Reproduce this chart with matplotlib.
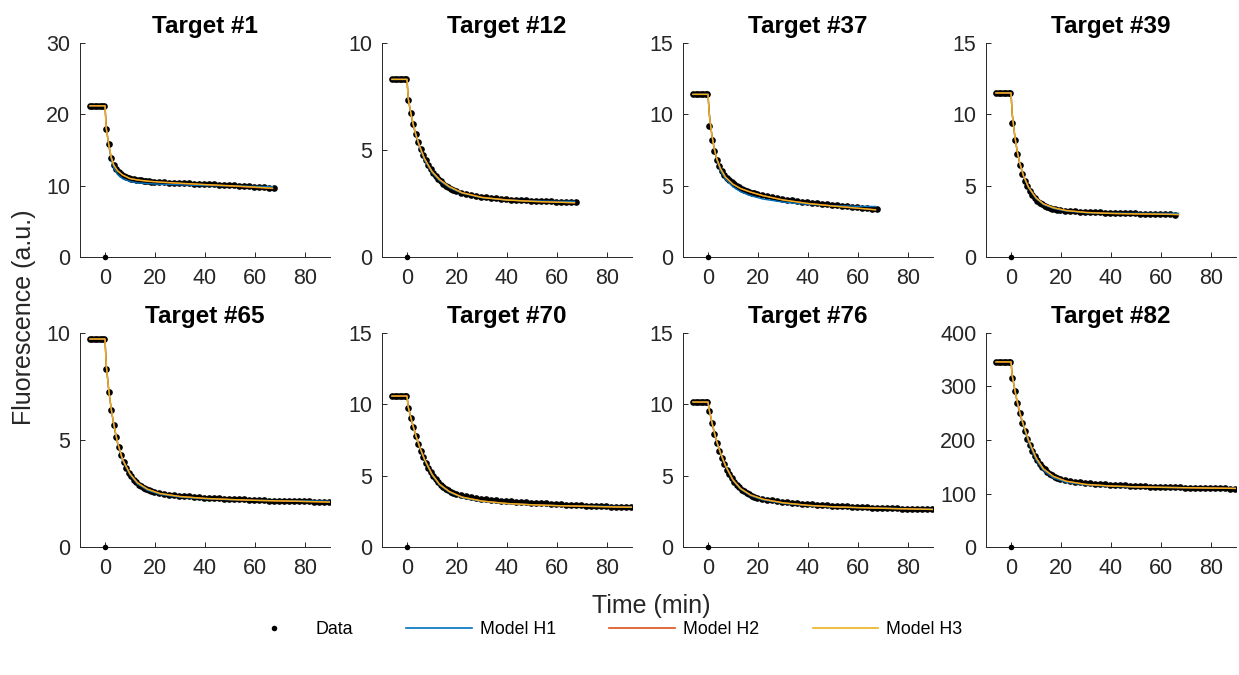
import numpy as np
import matplotlib
matplotlib.use("Agg")
import matplotlib.pyplot as plt

plt.rcParams['font.family'] = ['Liberation Sans', 'DejaVu Sans']

# panel titles and y ranges
titles = ["Target #1", "Target #12", "Target #37", "Target #39",
          "Target #65", "Target #70", "Target #76", "Target #82"]
ymax = [30, 10, 15, 15, 10, 15, 15, 400]
ystep = [10, 5, 5, 5, 5, 5, 5, 100]

# data sampling: flat baseline before t=0, the t=0 point, then decay
t_base = [-6, -5, -4, -3, -2, -1, -0.3]
t_decay = np.concatenate([np.arange(0.5, 20, 1.0), np.arange(21.5, 90, 2.0)])
base_level = [21.2, 8.3, 11.4, 11.5, 9.72, 10.58, 10.16, 346]

decay = [
    [18.0, 15.8, 13.9, 12.9, 12.3, 11.9, 11.6, 11.4, 11.25, 11.1, 11.0, 10.9, 10.85, 10.8, 10.75, 10.7, 10.65, 10.6, 10.58, 10.55,
     10.5, 10.47, 10.44, 10.41, 10.38, 10.35, 10.32, 10.29, 10.26, 10.23, 10.2, 10.17, 10.14, 10.11, 10.08, 10.05, 10.0, 9.95, 9.9, 9.85, 9.8, 9.75, 9.7, 9.65],
    [7.35, 6.73, 6.2, 5.76, 5.37, 5.06, 4.78, 4.53, 4.3, 4.1, 3.93, 3.78, 3.65, 3.53, 3.43, 3.34, 3.26, 3.19, 3.13, 3.08,
     3.0, 2.95, 2.9, 2.86, 2.82, 2.79, 2.76, 2.74, 2.72, 2.70, 2.68, 2.67, 2.66, 2.65, 2.64, 2.63, 2.62, 2.61, 2.60, 2.59, 2.58, 2.57, 2.56, 2.55],
    [9.2, 8.2, 7.45, 6.8, 6.35, 6.0, 5.75, 5.55, 5.38, 5.23, 5.1, 4.98, 4.88, 4.79, 4.71, 4.64, 4.57, 4.51, 4.46, 4.41,
     4.33, 4.26, 4.19, 4.13, 4.07, 4.02, 3.97, 3.92, 3.88, 3.84, 3.8, 3.76, 3.72, 3.69, 3.65, 3.62, 3.59, 3.55, 3.52, 3.49, 3.45, 3.41, 3.37, 3.33],
    [9.4, 8.2, 7.2, 6.45, 5.85, 5.35, 4.95, 4.62, 4.35, 4.13, 3.95, 3.8, 3.68, 3.58, 3.5, 3.44, 3.38, 3.34, 3.3, 3.27,
     3.24, 3.21, 3.19, 3.17, 3.15, 3.14, 3.13, 3.12, 3.11, 3.10, 3.09, 3.08, 3.07, 3.06, 3.05, 3.04, 3.03, 3.02, 3.01, 3.0, 2.99, 2.98, 2.97],
    [8.3, 7.25, 6.4, 5.72, 5.15, 4.68, 4.28, 3.96, 3.7, 3.48, 3.3, 3.15, 3.02, 2.92, 2.84, 2.77, 2.71, 2.66, 2.62, 2.58,
     2.53, 2.49, 2.45, 2.42, 2.40, 2.38, 2.36, 2.34, 2.32, 2.31, 2.29, 2.28, 2.27, 2.26, 2.25, 2.24, 2.23, 2.22, 2.21, 2.20,
     2.19, 2.18, 2.17, 2.16, 2.16, 2.15, 2.15, 2.14, 2.14, 2.13, 2.13, 2.12, 2.12, 2.11, 2.11],
    [9.75, 9.05, 8.4, 7.8, 7.25, 6.75, 6.3, 5.9, 5.55, 5.25, 4.98, 4.75, 4.55, 4.37, 4.22, 4.09, 3.97, 3.87, 3.78, 3.7,
     3.62, 3.55, 3.49, 3.44, 3.39, 3.35, 3.31, 3.28, 3.25, 3.22, 3.19, 3.17, 3.15, 3.13, 3.11, 3.09, 3.07, 3.05, 3.03, 3.01,
     2.99, 2.97, 2.95, 2.93, 2.91, 2.89, 2.87, 2.86, 2.85, 2.84, 2.83, 2.82, 2.81, 2.80, 2.79],
    [9.5, 8.7, 7.95, 7.3, 6.75, 6.25, 5.8, 5.42, 5.1, 4.82, 4.57, 4.36, 4.18, 4.03, 3.9, 3.79, 3.69, 3.6, 3.52, 3.45,
     3.38, 3.32, 3.27, 3.22, 3.18, 3.14, 3.10, 3.07, 3.04, 3.01, 2.98, 2.96, 2.94, 2.92, 2.90, 2.88, 2.86, 2.84, 2.82, 2.80,
     2.78, 2.77, 2.76, 2.75, 2.73, 2.72, 2.71, 2.70, 2.69, 2.68, 2.67, 2.66, 2.65, 2.64, 2.63],
    [315, 292, 270, 250, 232, 216, 202, 190, 180, 171, 163, 156, 150, 145, 141, 137, 134, 131, 129, 127,
     125, 123, 122, 121, 120, 119, 118, 117.5, 117, 116.5, 116, 115.5, 115, 114.6, 114.2, 113.8, 113.4, 113, 112.7, 112.4,
     112.1, 111.8, 111.5, 111.3, 111.1, 110.9, 110.7, 110.5, 110.3, 110.1, 109.9, 109.7, 109.5, 109.3, 109.1],
]

# model fits, sampled on a coarser grid
mt_top = [-6, 0, 0.5, 1.5, 2.5, 3.5, 5, 7, 10, 13, 17, 22, 30, 40, 50, 60, 67]
mt_bot = [-6, 0, 0.5, 1.5, 2.5, 3.5, 5, 7, 10, 13, 17, 22, 30, 40, 50, 60, 75, 90]

h1 = [
    [21.2, 21.2, 18.2, 15.6, 13.7, 12.5, 11.6, 11.0, 10.6, 10.4, 10.3, 10.2, 10.12, 10.02, 9.96, 9.9, 9.85],
    [8.3, 8.3, 7.4, 6.72, 6.15, 5.7, 5.12, 4.52, 3.94, 3.57, 3.24, 2.98, 2.77, 2.66, 2.62, 2.6, 2.6],
    [11.4, 11.4, 10.1, 8.6, 7.55, 6.8, 6.05, 5.45, 4.92, 4.58, 4.3, 4.06, 3.85, 3.69, 3.6, 3.55, 3.54],
    [11.5, 11.5, 10.0, 8.5, 7.38, 6.55, 5.65, 4.85, 4.1, 3.67, 3.4, 3.22, 3.1, 3.07, 3.06, 3.06, 3.06],
    [9.72, 9.72, 8.5, 7.32, 6.42, 5.7, 4.85, 4.05, 3.37, 2.95, 2.65, 2.46, 2.33, 2.25, 2.21, 2.18, 2.16, 2.14],
    [10.58, 10.58, 9.8, 9.1, 8.42, 7.82, 7.02, 6.1, 5.05, 4.35, 3.83, 3.46, 3.2, 3.04, 2.96, 2.9, 2.86, 2.82],
    [10.16, 10.16, 9.6, 8.77, 8.02, 7.35, 6.55, 5.65, 4.65, 4.05, 3.6, 3.3, 3.06, 2.9, 2.81, 2.76, 2.7, 2.66],
    [346, 346, 320, 294, 270, 249, 225, 196, 163, 143, 129, 121, 116, 113.5, 112, 111.5, 110.5, 109.5],
]
h2 = [
    [21.2, 21.2, 18.1, 15.8, 14.0, 12.9, 12.1, 11.5, 11.0, 10.8, 10.6, 10.5, 10.3, 10.15, 9.95, 9.75, 9.6],
    [8.3, 8.3, 7.4, 6.74, 6.19, 5.74, 5.19, 4.6, 4.0, 3.62, 3.29, 3.01, 2.79, 2.67, 2.6, 2.56, 2.53],
    [11.4, 11.4, 10.0, 8.6, 7.6, 6.9, 6.2, 5.6, 5.1, 4.8, 4.55, 4.3, 4.0, 3.76, 3.58, 3.42, 3.32],
    [11.5, 11.5, 10.0, 8.5, 7.4, 6.6, 5.7, 4.9, 4.15, 3.72, 3.45, 3.26, 3.13, 3.06, 3.02, 3.0, 2.97],
    [9.72, 9.72, 8.5, 7.35, 6.45, 5.75, 4.9, 4.1, 3.42, 3.0, 2.7, 2.5, 2.36, 2.27, 2.22, 2.18, 2.14, 2.1],
    [10.58, 10.58, 9.8, 9.1, 8.45, 7.85, 7.05, 6.15, 5.1, 4.4, 3.88, 3.5, 3.22, 3.05, 2.96, 2.9, 2.84, 2.78],
    [10.16, 10.16, 9.6, 8.8, 8.05, 7.4, 6.6, 5.7, 4.7, 4.1, 3.65, 3.35, 3.1, 2.92, 2.82, 2.76, 2.69, 2.63],
    [346, 346, 320, 295, 272, 252, 228, 200, 167, 146, 132, 123, 117, 114, 112.5, 111.5, 110.5, 109.5],
]
h3 = [
    [21.2, 21.2, 18.0, 15.8, 14.0, 12.9, 12.1, 11.5, 11.0, 10.8, 10.65, 10.5, 10.35, 10.15, 10.0, 9.8, 9.65],
    [8.3, 8.3, 7.4, 6.75, 6.2, 5.75, 5.2, 4.6, 4.0, 3.62, 3.28, 3.0, 2.78, 2.66, 2.6, 2.56, 2.54],
    [11.4, 11.4, 10.0, 8.6, 7.6, 6.9, 6.2, 5.6, 5.1, 4.8, 4.55, 4.3, 4.0, 3.75, 3.57, 3.42, 3.3],
    [11.5, 11.5, 10.0, 8.5, 7.4, 6.6, 5.7, 4.9, 4.15, 3.72, 3.45, 3.26, 3.12, 3.05, 3.02, 3.0, 2.98],
    [9.72, 9.72, 8.5, 7.35, 6.45, 5.75, 4.9, 4.1, 3.42, 3.0, 2.7, 2.5, 2.36, 2.27, 2.22, 2.18, 2.14, 2.1],
    [10.58, 10.58, 9.8, 9.1, 8.45, 7.85, 7.05, 6.15, 5.1, 4.4, 3.88, 3.5, 3.22, 3.05, 2.96, 2.9, 2.84, 2.78],
    [10.16, 10.16, 9.6, 8.8, 8.05, 7.4, 6.6, 5.7, 4.7, 4.1, 3.65, 3.35, 3.1, 2.92, 2.82, 2.76, 2.69, 2.63],
    [346, 346, 320, 295, 272, 252, 228, 200, 167, 146, 132, 123, 117, 114, 112.5, 111.5, 110.5, 109.5],
]

c_h1 = '#0072BD'
c_h2 = '#D95319'
c_h3 = '#EDB120'
axcol = '#262626'

W, H = 1239, 675
fig = plt.figure(figsize=(W / 100, H / 100), dpi=100)

lefts = [80, 382, 683, 986]
tops = [43, 333]
aw, ah = 250, 214
ms = 4.8

for i in range(8):
    r, c = divmod(i, 4)
    ax = fig.add_axes([lefts[c] / W, (H - tops[r] - ah) / H, aw / W, ah / H])
    mt = mt_top if r == 0 else mt_bot
    yd = decay[i]
    td = t_decay[:len(yd)]

    # data
    ax.plot(t_base, [base_level[i]] * len(t_base), 'o', color='k', ms=ms, mew=0, zorder=2)
    ax.plot(td, yd, 'o', color='k', ms=ms, mew=0, zorder=2)
    ax.plot([0], [0], 'o', color='k', ms=4, mew=0, zorder=5, clip_on=False)

    # models
    ax.plot(mt, h1[i], color=c_h1, lw=1.0, zorder=3)
    ax.plot(mt, h2[i], color=c_h2, lw=1.0, zorder=3)
    ax.plot(mt, h3[i], color=c_h3, lw=1.0, zorder=4)

    ax.set_xlim(-10, 90)
    ax.set_ylim(0, ymax[i])
    ax.set_xticks([0, 20, 40, 60, 80])
    ax.set_yticks(np.arange(0, ymax[i] + 1e-9, ystep[i]))
    for s in ['top', 'right']:
        ax.spines[s].set_visible(False)
    for s in ['left', 'bottom']:
        ax.spines[s].set_color(axcol)
        ax.spines[s].set_linewidth(0.7)
    ax.tick_params(direction='in', length=3.5, width=0.7, colors=axcol,
                   labelsize=15.5)
    ax.tick_params(axis='y', pad=7)
    ax.tick_params(axis='x', pad=8)
    ax.set_title(titles[i], fontsize=17.5, fontweight='bold', pad=7)

fig.text(651 / W, 1 - 606 / H, "Time (min)", ha='center', va='center',
         fontsize=18, color=axcol)
fig.text(24 / W, 1 - 317 / H, "Fluorescence (a.u.)", ha='center', va='center',
         rotation=90, fontsize=18, color=axcol)

# legend handles
hd = plt.Line2D([], [], marker='o', ls='none', color='k', ms=4, mew=0)
hb = plt.Line2D([], [], color=c_h1, lw=1.2)
hr = plt.Line2D([], [], color=c_h2, lw=1.2)
hy = plt.Line2D([], [], color=c_h3, lw=1.2)
fig.legend([hd, hb, hr, hy], ["Data", "Model H1", "Model H2", "Model H3"],
           loc='center', bbox_to_anchor=(602 / W, 1 - 630 / H), ncol=4,
           frameon=False, fontsize=12.8, handlelength=3.7, handletextpad=0.45,
           columnspacing=3.0)

fig.savefig("out.png", dpi=100)
